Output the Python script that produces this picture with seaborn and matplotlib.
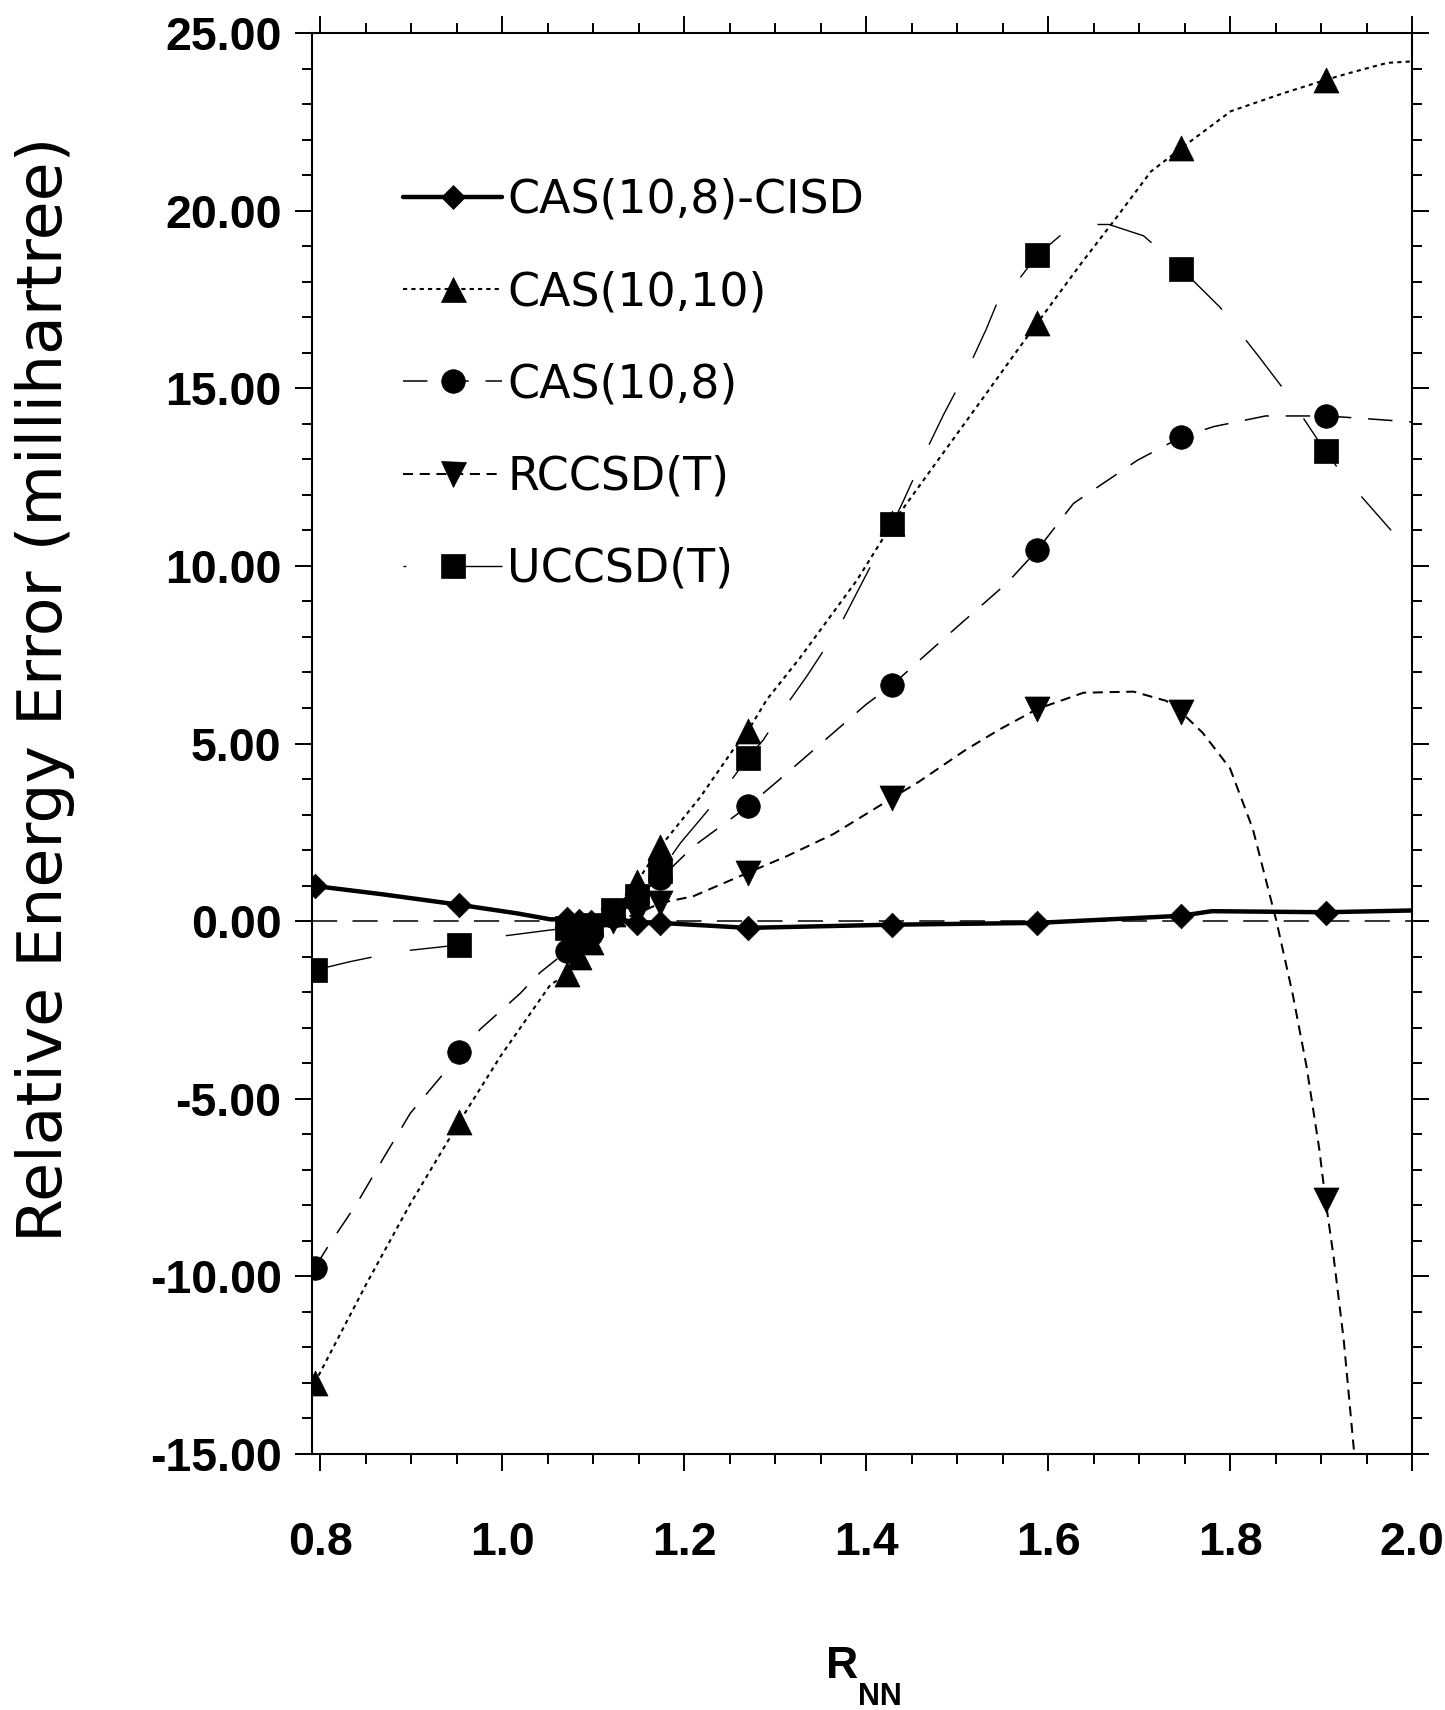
import matplotlib
matplotlib.use('Agg')
import matplotlib.pyplot as plt
from matplotlib.lines import Line2D
from matplotlib.ticker import MultipleLocator, FormatStrFormatter
import numpy as np
import seaborn as sns

sns.set_style('ticks')
plt.rcParams.update({'font.family': ['DejaVu Sans'],
                     'axes.unicode_minus': False,
                     'text.color': 'black',
                     'axes.labelcolor': 'black',
                     'xtick.color': 'black',
                     'ytick.color': 'black'})

## Dados (R_NN em angstrom, erro em milihartree)

r_pts = [0.794, 0.953, 1.071, 1.085, 1.098, 1.122, 1.148, 1.174, 1.270, 1.429, 1.588, 1.746, 1.905]
cisd_pts = [0.99, 0.46, 0.05, 0.0, -0.02, 0.1, -0.05, -0.05, -0.19, -0.1, -0.05, 0.15, 0.22]
cas1010_pts = [-13.0, -5.65, -1.5, -1.0, -0.6, 0.2, 1.1, 2.1, 5.35, 11.2, 16.83, 21.75, 23.68]
cas108_pts = [-9.76, -3.69, -0.85, -0.6, -0.35, 0.15, 0.7, 1.2, 3.23, 6.65, 10.44, 13.62, 14.22]
rccsd_pts = [np.nan, np.nan, -0.5, -0.4, -0.25, 0.0, 0.2, 0.51, 1.36, 3.47, 5.97, 5.89, -7.86]
uccsd_pts = [-1.38, -0.67, -0.2, -0.15, -0.1, 0.3, 0.7, 1.4, 4.6, 11.18, 18.74, 18.37, 13.22]

# curvas suavizadas (lidas ao longo das linhas do grafico)
cisd_cx = [0.794, 0.87, 0.953, 1.016, 1.053, 1.071, 1.085, 1.098, 1.122, 1.148, 1.174, 1.270,
           1.429, 1.588, 1.746, 1.78, 1.905, 2.0]
cisd_cy = [0.99, 0.75, 0.46, 0.22, 0.05, 0.05, 0.0, -0.02, 0.1, -0.05, -0.05, -0.19,
           -0.1, -0.05, 0.15, 0.28, 0.25, 0.3]

cas1010_cx = [0.794, 0.851, 0.899, 0.953, 0.998, 1.053, 1.071, 1.085, 1.098, 1.122, 1.148, 1.174,
              1.218, 1.254, 1.270, 1.291, 1.327, 1.39, 1.429, 1.474, 1.525, 1.566, 1.588, 1.636,
              1.675, 1.713, 1.746, 1.801, 1.858, 1.905, 1.935, 1.973, 2.0]
cas1010_cy = [-13.0, -10.2, -7.96, -5.65, -3.81, -1.79, -1.5, -1.0, -0.6, 0.2, 1.1, 2.1,
              3.5, 4.83, 5.35, 6.24, 7.4, 9.6, 11.2, 12.8, 14.6, 16.06, 16.83, 18.5,
              19.8, 21.1, 21.75, 22.8, 23.3, 23.68, 23.9, 24.16, 24.2]

cas108_cx = [0.794, 0.809, 0.840, 0.870, 0.899, 0.936, 0.953, 0.976, 1.020, 1.042, 1.071, 1.085,
             1.098, 1.122, 1.148, 1.174, 1.21, 1.270, 1.305, 1.364, 1.40, 1.429, 1.459, 1.503,
             1.555, 1.588, 1.628, 1.698, 1.746, 1.782, 1.839, 1.905, 1.935, 2.0]
cas108_cy = [-9.76, -9.14, -7.96, -6.65, -5.41, -4.28, -3.69, -3.04, -2.03, -1.44, -0.85, -0.6,
             -0.35, 0.15, 0.7, 1.2, 2.1, 3.23, 3.99, 5.3, 6.1, 6.65, 7.35, 8.35,
             9.52, 10.44, 11.76, 12.97, 13.62, 13.92, 14.22, 14.22, 14.17, 14.05]

rccsd_cx = [1.071, 1.085, 1.098, 1.122, 1.148, 1.174, 1.21, 1.270, 1.313, 1.364, 1.429, 1.459,
            1.51, 1.547, 1.588, 1.639, 1.694, 1.73, 1.746, 1.77, 1.80, 1.825, 1.851, 1.869,
            1.884, 1.898, 1.905, 1.914, 1.925, 1.938]
rccsd_cy = [-0.5, -0.4, -0.25, 0.0, 0.2, 0.51, 0.7, 1.36, 1.83, 2.45, 3.47, 3.94,
            4.83, 5.4, 5.97, 6.43, 6.46, 6.2, 5.89, 5.3, 4.3, 2.6, 0.0, -2.07,
            -4.08, -6.4, -7.86, -9.48, -11.8, -15.4]

uccsd_cx = [0.794, 0.833, 0.888, 0.953, 0.998, 1.053, 1.071, 1.085, 1.098, 1.122, 1.148, 1.174,
            1.196, 1.236, 1.270, 1.287, 1.309, 1.335, 1.371, 1.429, 1.441, 1.466, 1.485, 1.514,
            1.532, 1.552, 1.569, 1.588, 1.613, 1.648, 1.667, 1.705, 1.746, 1.789, 1.832, 1.862,
            1.905, 1.927, 1.977]
uccsd_cy = [-1.38, -1.14, -0.85, -0.67, -0.43, -0.25, -0.2, -0.15, -0.1, 0.3, 0.7, 1.4,
            2.2, 3.42, 4.6, 5.1, 5.96, 6.9, 8.31, 11.18, 11.83, 13.24, 14.25, 15.66,
            16.66, 17.9, 18.1, 18.74, 19.29, 19.61, 19.61, 19.29, 18.37, 17.28, 15.88, 14.87,
            13.22, 12.46, 11.0]

labels = ['CAS(10,8)-CISD', 'CAS(10,10)', 'CAS(10,8)', 'RCCSD(T)', 'UCCSD(T)']

## Estilo de cada serie: (pontos, curva x, curva y, marcador, tamanho, lw, tracejado, tracejado na legenda)
series = [
    (cisd_pts, cisd_cx, cisd_cy, 'D', 12.5, 3.2, '-', '-'),
    (cas1010_pts, cas1010_cx, cas1010_cy, '^', 18, 1.5, (0, (2, 2)), (0, (2, 2))),
    (cas108_pts, cas108_cx, cas108_cy, 'o', 17, 1.1, (0, (16, 11)), (0, (16, 11))),
    (rccsd_pts, rccsd_cx, rccsd_cy, 'v', 18, 1.45, (0, (5, 3.3)), (0, (5, 3.3))),
    (uccsd_pts, uccsd_cx, uccsd_cy, 's', 17, 1.0, (0, (42, 28)), (40, (42, 28))),
]

fig = plt.figure(figsize=(14.45, 17.10), dpi=100)
ax = fig.add_axes([312/1445, 1 - 1454/1710, 1100/1445, 1421/1710])

ax.axhline(0, color='black', lw=1.1, linestyle=(0, (16.5, 10)), zorder=1)

handles = []
for (pts, cx, cy, mk, ms, lw, ls, ls_leg), lab in zip(series, labels):
    sns.lineplot(x=cx, y=cy, ax=ax, sort=False, estimator=None, errorbar=None,
                 color='black', lw=lw, linestyle=ls, zorder=2)
    sns.scatterplot(x=r_pts, y=pts, ax=ax, marker=mk, s=ms**2, color='black',
                    edgecolor='black', linewidth=0.5, zorder=3)
    handles.append(Line2D([], [], color='black', lw=lw, linestyle=ls_leg, marker=mk,
                          markersize=ms, markeredgewidth=0.5, label=lab))

ax.set_xlim(0.791, 2.0)
ax.set_ylim(-15, 25)

ax.xaxis.set_major_locator(MultipleLocator(0.2))
ax.xaxis.set_minor_locator(MultipleLocator(0.05))
ax.xaxis.set_major_formatter(FormatStrFormatter('%.1f'))
ax.yaxis.set_major_locator(MultipleLocator(5))
ax.yaxis.set_minor_locator(MultipleLocator(1))
ax.yaxis.set_major_formatter(FormatStrFormatter('%.2f'))

ax.tick_params(which='both', direction='out', top=True, right=True, width=1.4, colors='black')
ax.tick_params(which='major', length=12.5)
ax.tick_params(which='minor', length=7)
ax.tick_params(axis='x', which='major', pad=36)
ax.tick_params(axis='y', which='major', pad=9.4)
for t in ax.get_xticklabels() + ax.get_yticklabels():
    t.set_family('Liberation Sans')
    t.set_fontweight('bold')
    t.set_fontsize(33.5)

for s in ax.spines.values():
    s.set_linewidth(1.5)
    s.set_color('black')

ax.set_ylabel('Relative Energy Error (millihartree)', fontsize=45.5)
ax.yaxis.set_label_coords(-0.215, 0.538)

# R com indice NN bem abaixo da linha de base
ax.set_xlabel('R', fontsize=32, fontweight='bold', family='Liberation Sans')
ax.xaxis.set_label_coords(0.482, -0.135)
ax.annotate('NN', xy=(1, 0), xycoords=ax.xaxis.label, xytext=(0, -13),
            textcoords='offset points', ha='left', va='baseline',
            fontsize=22, fontweight='bold', family='Liberation Sans')

ax.legend(handles=handles, loc='upper left', bbox_to_anchor=(0.083, 0.898),
          frameon=False, fontsize=33, handlelength=2.16, handletextpad=0.11,
          labelspacing=1.03, borderpad=0, borderaxespad=0)

fig.savefig('out.png', dpi=100)
